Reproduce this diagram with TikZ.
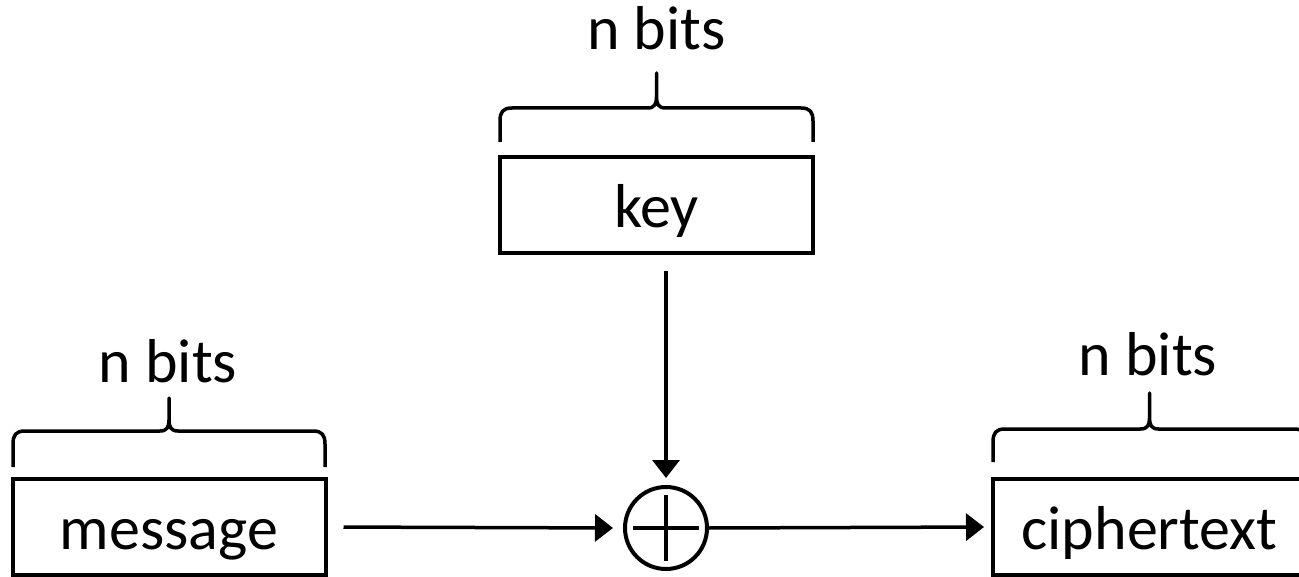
\documentclass[tikz,border=0pt]{standalone}
\usepackage{fontspec}
\setmainfont{Carlito}
\usetikzlibrary{arrows.meta}
\newcommand{\bitbrace}[5]{% #1 left x, #2 right x, #3 end y, #4 bar y, #5 tip y
  \pgfmathsetmacro\bmid{(#1+#2)/2}
  \draw[bracestyle] (#1,#3) -- (#1,#4+13)
    .. controls (#1,#4+4) and (#1+3,#4) .. (#1+12,#4)
    -- (\bmid-9,#4)
    .. controls (\bmid-2,#4) and (\bmid,#4-4) .. (\bmid,#4-11)
    -- (\bmid,#5) -- (\bmid,#4-11)
    .. controls (\bmid,#4-4) and (\bmid+2,#4) .. (\bmid+9,#4)
    -- (#2-12,#4)
    .. controls (#2-3,#4) and (#2,#4+4) .. (#2,#4+13)
    -- (#2,#3);
}
\tikzset{
  txt/.style={font=\fontsize{62}{74}\selectfont},
  box/.style={draw, line width=4pt, minimum width=313pt, minimum height=96pt,
    inner sep=0pt, text height=45pt, text depth=0pt, txt},
  lbl/.style={anchor=base, inner sep=0pt, txt},
  bracestyle/.style={line width=3.5pt, line join=round, line cap=butt},
  arr/.style={line width=3.5pt, -{Triangle[length=18pt,width=27pt]}},
  xorstyle/.style={draw, circle, line width=4pt, minimum size=82pt, inner sep=0pt},
}
\begin{document}
\begin{tikzpicture}[x=1pt,y=-1pt]
  \useasboundingbox (0,0) rectangle (1299,577);
  \clip (0,0) rectangle (1299,577);
  % boxes
  \node[box] (msg) at (169,527) {message};
  \node[box] (key) at (656.5,205.5) {key};
  \node[box] (ct) at (1149.5,527) {ciphertext};
  % xor
  \node[xorstyle] (xor) at (666,528) {};
  \draw[line width=4pt] ([xshift=-33pt]xor.center) -- ([xshift=33pt]xor.center);
  \draw[line width=4pt] ([yshift=-33pt]xor.center) -- ([yshift=33pt]xor.center);
  % braces
  \bitbrace{13}{325}{467}{431}{398}
  \bitbrace{500}{813}{142}{108}{73}
  \bitbrace{993}{1306}{462}{429}{393}
  % labels
  \node[lbl] (nb1) at (168,383) {n bits};
  \node[lbl] (nb2) at (656.5,50) {n bits};
  \node[lbl] (nb3) at (1148,375) {n bits};
  % arrows
  \draw[arr, shorten <=16pt, shorten >=10pt] (msg.east) -- (xor.west);
  \draw[arr, shorten <=16pt, shorten >=7pt] (key.south -| xor.north) -- (xor.north);
  \draw[arr, shorten >=7pt] (xor.east) -- (ct.west);
\end{tikzpicture}
\end{document}
